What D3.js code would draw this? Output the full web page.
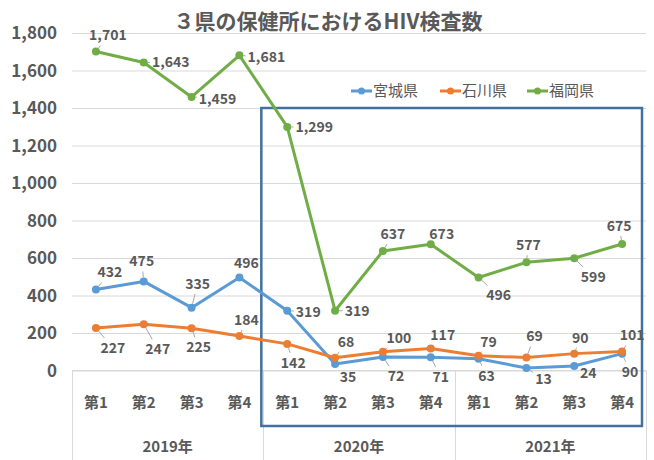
<!DOCTYPE html>
<html>
<head>
<meta charset="utf-8">
<script src="https://cdn.jsdelivr.net/npm/d3@7"></script>
<style>
  html, body { margin: 0; padding: 0; background: #fff; }
  svg { display: block; }
  .num { font-family: "Liberation Sans Narrow", "Noto Sans CJK JP", sans-serif; font-weight: bold; fill: #595959; }
  .jp { font-family: "Noto Sans CJK JP", sans-serif; fill: #595959; }
</style>
</head>
<body>
<div id="chart"></div>
<script>
// chart values
var quarters = ["第1", "第2", "第3", "第4"];
var years = ["2019年", "2020年", "2021年"];
var seriesNames = ["宮城県", "石川県", "福岡県"];
var miyagi = [432, 475, 335, 496, 319, 35, 72, 71, 63, 13, 24, 90];
var ishikawa = [227, 247, 225, 184, 142, 68, 100, 117, 79, 69, 90, 101];
var fukuoka = [1701, 1643, 1459, 1681, 1299, 319, 637, 673, 496, 577, 599, 675];
var yTicks = [0, 200, 400, 600, 800, 1000, 1200, 1400, 1600, 1800];
var titleText = "３県の保健所におけるHIV検査数";

// where each data label sits relative to its point (dx, dy)
var labelOffsets = [
    [[14,-17],[-2,-20],[6,-24],[7,-14],[21,1],[13,13],[13,19],[10,20],[8,17],[17,11],[14,7],[8,18]],
    [[17,20],[14,25],[7,19],[7,-16],[6,19],[11,-16],[16,-14],[12,-13],[10,-14],[8,-21],[6,-16],[10,-16]],
    [[12,-16],[27,0],[26,2],[27,2],[27,0],[22,0],[10,-17],[11,-10],[20,18],[2,-17],[19,19],[-3,-18]]
];

var colors = ["#5B9BD5", "#ED7D31", "#70AD47"];
var series = [miyagi, ishikawa, fukuoka];

var width = 654,
    height = 460,
    margin = {top: 33, left: 72, bottom: 90, right: 8};

var svg = d3.select("#chart").append("svg")
    .attr("width", width)
    .attr("height", height);

var categories = d3.range(years.length * quarters.length);

var x = d3.scaleBand()
    .domain(categories)
    .range([margin.left, width - margin.right]);

var y = d3.scaleLinear()
    .domain([0, 1800])
    .range([height - margin.bottom + 0.5, margin.top]);

// gridlines
svg.append("g")
    .attr("transform", "translate(" + margin.left + ",0)")
    .call(d3.axisLeft(y).tickValues(yTicks).tickSize(-(x.range()[1] - margin.left)).tickFormat(""))
    .call(function(g) {
        g.select(".domain").remove();
        g.selectAll("line").attr("stroke", "#d9d9d9").attr("stroke-width", 1);
    });

// y labels
svg.append("g")
    .attr("transform", "translate(" + (margin.left - 15) + ",0)")
    .call(d3.axisLeft(y).tickValues(yTicks).tickSize(0).tickFormat(d3.format(",")))
    .call(function(g) {
        g.select(".domain").remove();
        g.selectAll("text")
            .attr("class", "num")
            .attr("font-size", 17)
            .attr("dy", "0.35em")
            .attr("x", 0);
    });

// category axis (two levels)
var axisTop = y(0);
var catAxis = svg.append("g");

catAxis.append("line")
    .attr("x1", x.range()[0]).attr("x2", x.range()[1])
    .attr("y1", axisTop).attr("y2", axisTop)
    .attr("stroke", "#d9d9d9");

var dividers = d3.range(years.length + 1).map(function(i) {
    return x.range()[0] + i * x.bandwidth() * quarters.length;
});

catAxis.selectAll(".divider")
    .data(dividers)
    .enter().append("line")
    .attr("class", "divider")
    .attr("x1", function(d) { return Math.round(d) + 0.5; })
    .attr("x2", function(d) { return Math.round(d) + 0.5; })
    .attr("y1", axisTop)
    .attr("y2", height)
    .attr("stroke", "#d9d9d9");

catAxis.selectAll(".qlabel")
    .data(categories)
    .enter().append("text")
    .attr("class", "jp")
    .attr("font-size", 15)
    .attr("font-weight", "bold")
    .attr("text-anchor", "middle")
    .attr("x", function(d) { return x(d) + x.bandwidth() / 2; })
    .attr("y", axisTop + 37)
    .text(function(d) { return quarters[d % quarters.length]; });

catAxis.selectAll(".ylabel")
    .data(years)
    .enter().append("text")
    .attr("class", "num")
    .attr("font-size", 15)
    .attr("text-anchor", "middle")
    .attr("x", function(d, i) { return (dividers[i] + dividers[i + 1]) / 2; })
    .attr("y", axisTop + 81)
    .text(function(d) { return d; });

// highlight box around 2020-2021
svg.append("rect")
    .attr("x", x(4) - 2)
    .attr("y", y(1400))
    .attr("width", x.range()[1] - 4 - (x(4) - 2))
    .attr("height", 426 - y(1400))
    .attr("fill", "none")
    .attr("stroke", "#41719C")
    .attr("stroke-width", 2.5);

// lines
var line = d3.line()
    .x(function(d, i) { return x(i) + x.bandwidth() / 2; })
    .y(function(d) { return y(d); });

var seriesG = svg.selectAll(".series")
    .data(series)
    .enter().append("g")
    .attr("class", "series");

seriesG.append("path")
    .attr("d", function(d) { return line(d); })
    .attr("fill", "none")
    .attr("stroke", function(d, i) { return colors[i]; })
    .attr("stroke-width", 3)
    .attr("stroke-linejoin", "round");

seriesG.each(function(values, si) {
    d3.select(this).selectAll("circle")
        .data(values)
        .enter().append("circle")
        .attr("cx", function(d, i) { return x(i) + x.bandwidth() / 2; })
        .attr("cy", function(d) { return y(d); })
        .attr("r", 4)
        .attr("fill", colors[si]);
});

// data labels with leader lines
var labelLayer = svg.append("g");
series.forEach(function(values, si) {
    values.forEach(function(v, i) {
        var px = x(i) + x.bandwidth() / 2,
            py = y(v),
            off = labelOffsets[si][i],
            lx = px + off[0],
            ly = py + off[1];

        var txt = labelLayer.append("text")
            .attr("class", "num")
            .attr("font-size", 14)
            .attr("text-anchor", "middle")
            .attr("x", lx)
            .attr("y", ly)
            .attr("dy", "0.35em")
            .text(d3.format(",")(v));

        var dist = Math.sqrt(off[0] * off[0] + off[1] * off[1]);
        if (dist > 17) {
            var bb = txt.node().getBBox();
            var hw = bb.width / 2 + 2, hh = bb.height / 2;
            var t = Math.min(hw / Math.abs(off[0] || 1e-6), hh / Math.abs(off[1] || 1e-6));
            var ex = lx - off[0] * t, ey = ly - off[1] * t;
            var sx = px + off[0] / dist * 4, sy = py + off[1] / dist * 4;
            if ((ex - px) * off[0] + (ey - py) * off[1] > 4 * dist) {
                labelLayer.insert("line", ":first-child")
                    .attr("x1", sx).attr("y1", sy)
                    .attr("x2", ex).attr("y2", ey)
                    .attr("stroke", "#a6a6a6")
                    .attr("stroke-width", 1);
            }
        }
    });
});

// legend
var legendX = [351, 440, 527];
var legend = svg.selectAll(".legend")
    .data(seriesNames)
    .enter().append("g")
    .attr("class", "legend")
    .attr("transform", function(d, i) { return "translate(" + legendX[i] + ",91)"; });

legend.append("line")
    .attr("x1", 0).attr("x2", 21)
    .attr("stroke", function(d, i) { return colors[i]; })
    .attr("stroke-width", 3);

legend.append("circle")
    .attr("cx", 10.5)
    .attr("r", 3.5)
    .attr("fill", function(d, i) { return colors[i]; });

legend.append("text")
    .attr("class", "jp")
    .attr("font-size", 15)
    .attr("x", 22)
    .attr("dy", "0.35em")
    .text(function(d) { return d; });

// title
svg.append("text")
    .attr("class", "jp")
    .attr("font-size", 21)
    .attr("font-weight", "bold")
    .attr("text-anchor", "middle")
    .attr("x", 328)
    .attr("y", 22)
    .attr("dy", "0.35em")
    .attr("fill", "#666")
    .text(titleText);
</script>
</body>
</html>
